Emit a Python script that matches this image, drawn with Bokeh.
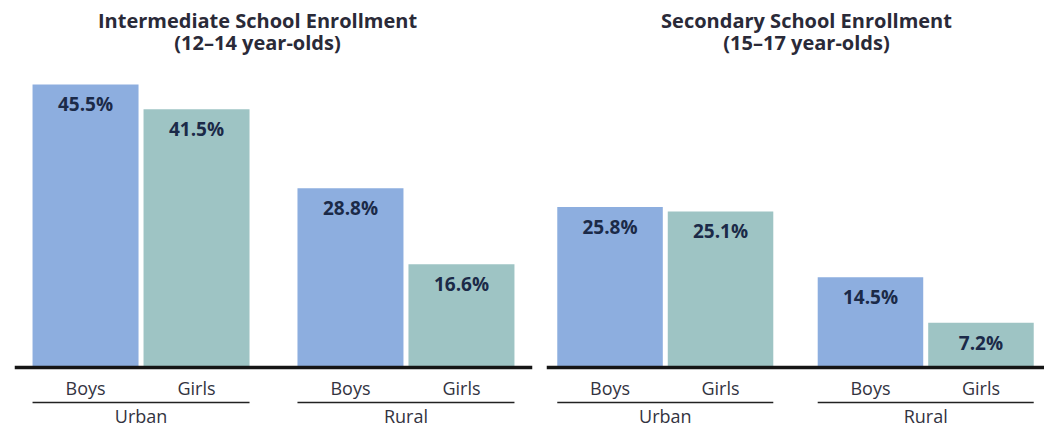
from bokeh.plotting import figure
from bokeh.models import ColumnDataSource, FactorRange, Range1d, Span
from bokeh.transform import dodge
from bokeh.layouts import row
from bokeh.embed import file_html
from bokeh.resources import INLINE
from bokeh.core.properties import value

# ---- data ----
areas = ["Urban", "Rural"]
sexes = ["Boys", "Girls"]
# order: Urban Boys, Urban Girls, Rural Boys, Rural Girls
intermediate = [45.5, 41.5, 28.8, 16.6]
secondary = [25.8, 25.1, 14.5, 7.2]
titles = ["Intermediate School Enrollment\n(12\u201314 year-olds)",
          "Secondary School Enrollment\n(15\u201317 year-olds)"]

# ---- style ----
COLORS = {"Boys": "#8DAEDF", "Girls": "#9EC4C4"}
FONT = "Open Sans"
PPU = 6.22          # pixels per percentage point
BASE_PX = 61        # pixels between baseline and bottom of frame
HEIGHT = 428
BAR_W = 0.955
TITLE_MID_PX = 31   # title block centre, pixels from top


def panel(title, vals, width, b_left, b_right, gp, rp, toff):
    factors = [(a, s) for a in areas for s in sexes]
    xr = FactorRange(*factors, group_padding=gp, range_padding=rp,
                     range_padding_units="absolute")
    y_end = (HEIGHT - BASE_PX) / PPU
    yr = Range1d(-BASE_PX / PPU, y_end)
    p = figure(x_range=xr, y_range=yr, width=width, height=HEIGHT,
               output_backend="svg", toolbar_location=None,
               x_axis_location=None, y_axis_location=None,
               min_border_left=b_left, min_border_right=b_right,
               min_border_top=0, min_border_bottom=0)
    p.grid.visible = False
    p.outline_line_color = None

    # title, centred over the panel
    mid = (len(factors) + (len(areas) - 1) * gp) / 2
    p.text(x=[mid], y=[y_end - TITLE_MID_PX / PPU], text=[title],
           text_align="center", text_baseline="middle", x_offset=toff,
           text_font=value(FONT), text_font_size="20px",
           text_font_style="bold", text_color="#2a2a38",
           text_line_height=0.85)

    src = ColumnDataSource(dict(
        x=factors, v=vals, sex=[f[1] for f in factors],
        color=[COLORS[f[1]] for f in factors],
        label=[f"{v:.1f}%" for v in vals],
    ))
    p.vbar(x="x", top="v", bottom=0, width=BAR_W, fill_color="color",
           line_color=None, source=src)
    p.text(x="x", y="v", text="label", source=src, text_align="center",
           text_baseline="middle", y_offset=20, text_font=value(FONT),
           text_font_style="bold", text_font_size="19px", text_color="#1b2a48")
    # sub-category labels
    p.text(x="x", y=0, text="sex", source=src, text_align="center",
           text_baseline="middle", y_offset=20, text_font=value(FONT),
           text_font_size="18px", text_color="#33333f")
    # group underline + group labels
    gsrc = ColumnDataSource(dict(
        g=areas,
        first=[(a, sexes[0]) for a in areas],
        last=[(a, sexes[-1]) for a in areas],
    ))
    p.segment(x0=dodge("first", -BAR_W / 2, range=xr),
              x1=dodge("last", BAR_W / 2, range=xr),
              y0=-35 / PPU, y1=-35 / PPU, line_color="#222222",
              line_width=1.6, source=gsrc)
    p.text(x="g", y=0, text="g", source=gsrc, text_align="center",
           text_baseline="middle", y_offset=48, text_font=value(FONT),
           text_font_size="18px", text_color="#33333f")
    p.add_layout(Span(location=0, dimension="width", line_color="#151515",
                      line_width=3.5))
    return p


p1 = panel(titles[0], intermediate, 546, 14, 14, 0.387, 0.14, -16)
p2 = panel(titles[1], secondary, 498, 0, 0, 0.357, 0.075, 11)
layout = row(p1, p2)

open("out.html", "w").write(file_html(layout, INLINE))
